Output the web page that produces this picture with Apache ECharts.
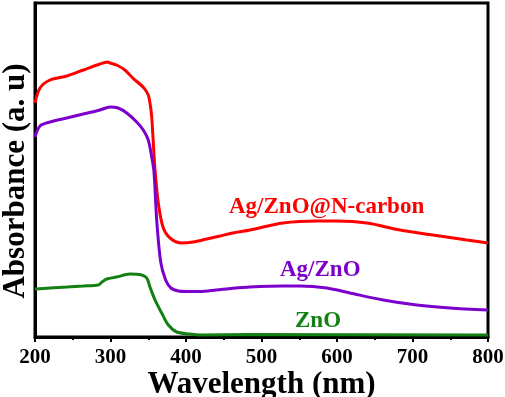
<!DOCTYPE html>
<html>
<head>
<meta charset="utf-8">
<script src="https://cdn.jsdelivr.net/npm/echarts@6/dist/echarts.min.js"></script>
<style>
  html, body { margin: 0; padding: 0; background: #fff; }
  #chart { width: 505px; height: 397px; }
</style>
</head>
<body>
<div id="chart"></div>
<script>
// wavelength (nm) / absorbance (a.u.)
var agZnOCarbon = [
  [200, 2.34], [206.6, 2.49], [219.9, 2.57], [242, 2.61], [264, 2.67], [286, 2.73],
  [296.7, 2.75], [299.3, 2.74], [308, 2.72], [319, 2.67], [330, 2.587], [343.4, 2.497],
  [350, 2.42], [352.3, 2.34], [354.6, 2.20], [356.7, 1.94], [359, 1.67], [363.3, 1.34],
  [369.5, 1.10], [378.8, 0.99], [394.3, 0.94], [409.3, 0.95], [427.4, 0.98], [445, 1.01],
  [462, 1.04], [484.8, 1.07], [528.5, 1.14], [573.5, 1.16], [600, 1.16], [639.7, 1.14],
  [683.4, 1.07], [727, 1.02], [772, 0.97], [800, 0.94]
]
var agZnO = [
  [200, 2.00], [206.6, 2.11], [219.9, 2.15], [242, 2.19], [264, 2.23], [286, 2.27],
  [299.3, 2.30], [310, 2.29], [321.5, 2.24], [334.7, 2.15], [343.4, 2.07], [350, 1.97],
  [354.6, 1.80], [357.6, 1.65], [361.2, 1.17], [366.5, 0.75], [373, 0.57], [380, 0.49],
  [390, 0.46], [401, 0.455], [418.5, 0.455], [440, 0.47], [462, 0.487], [484.8, 0.50],
  [528.5, 0.51], [551, 0.51], [586.4, 0.49], [617.2, 0.44], [661, 0.37], [705.6, 0.32],
  [749.7, 0.29], [800, 0.27]
]
var znO = [
  [200, 0.48], [219.9, 0.49], [242, 0.50], [264, 0.51], [283.8, 0.52], [288.7, 0.55],
  [295, 0.58], [308, 0.60], [325.8, 0.63], [341.3, 0.62], [348, 0.59], [352.3, 0.50],
  [359, 0.37], [367.8, 0.24], [376.6, 0.12], [387.7, 0.05], [405.3, 0.03], [418.5, 0.02],
  [484.8, 0.025], [800, 0.02]
]
var seriesNames = ['Ag/ZnO@N-carbon', 'Ag/ZnO', 'ZnO']
var seriesColors = ['#ff0000', '#7c00cc', '#138013']

var font = 'Liberation Serif, Times New Roman, serif'
var chart = echarts.init(document.getElementById('chart'))

var seriesData = [agZnOCarbon, agZnO, znO]
var seriesList = []
seriesData.forEach(function (d, i) {
  seriesList.push({
    name: seriesNames[i],
    type: 'line',
    data: d,
    showSymbol: false,
    smooth: 0.3,
    lineStyle: { width: 3, color: seriesColors[i] },
    itemStyle: { color: seriesColors[i] }
  })
})

chart.setOption({
  animation: false,
  grid: {
    left: 35, right: 17, top: 3, bottom: 60,
    outerBoundsMode: 'none',
    containLabel: false,
    show: true,
    borderColor: '#000',
    borderWidth: 3
  },
  xAxis: {
    type: 'value',
    min: 200, max: 800, interval: 100,
    name: 'Wavelength (nm)',
    nameLocation: 'middle',
    nameGap: 32,
    nameMoveOverlap: false,
    nameTextStyle: { fontFamily: font, fontWeight: 'bold', fontSize: 31, color: '#000' },
    axisLine: { show: true, lineStyle: { color: '#000', width: 3 } },
    axisTick: { show: true, inside: false, length: 5, lineStyle: { color: '#000', width: 2 } },
    minorTick: { show: true, splitNumber: 2, length: 3, lineStyle: { color: '#000', width: 2 } },
    axisLabel: { margin: 10, fontFamily: font, fontWeight: 'bold', fontSize: 21, color: '#000' },
    splitLine: { show: false }
  },
  yAxis: {
    type: 'value',
    min: 0, max: 3.34,
    name: 'Absorbance (a. u)',
    nameLocation: 'middle',
    nameGap: 4,
    nameTextStyle: { fontFamily: font, fontWeight: 'bold', fontSize: 31, color: '#000', padding: [0, 22, 0, 0] },
    axisLine: { show: true, lineStyle: { color: '#000', width: 3 } },
    axisTick: { show: false },
    axisLabel: { show: false },
    splitLine: { show: false }
  },
  graphic: [
    { type: 'text', left: 229, top: 196, style: { text: seriesNames[0], fill: seriesColors[0], font: 'bold 23px ' + font } },
    { type: 'text', left: 280, top: 259, style: { text: seriesNames[1], fill: seriesColors[1], font: 'bold 23px ' + font } },
    { type: 'text', left: 295, top: 310, style: { text: seriesNames[2], fill: seriesColors[2], font: 'bold 23px ' + font } }
  ],
  series: seriesList
})
</script>
</body>
</html>
